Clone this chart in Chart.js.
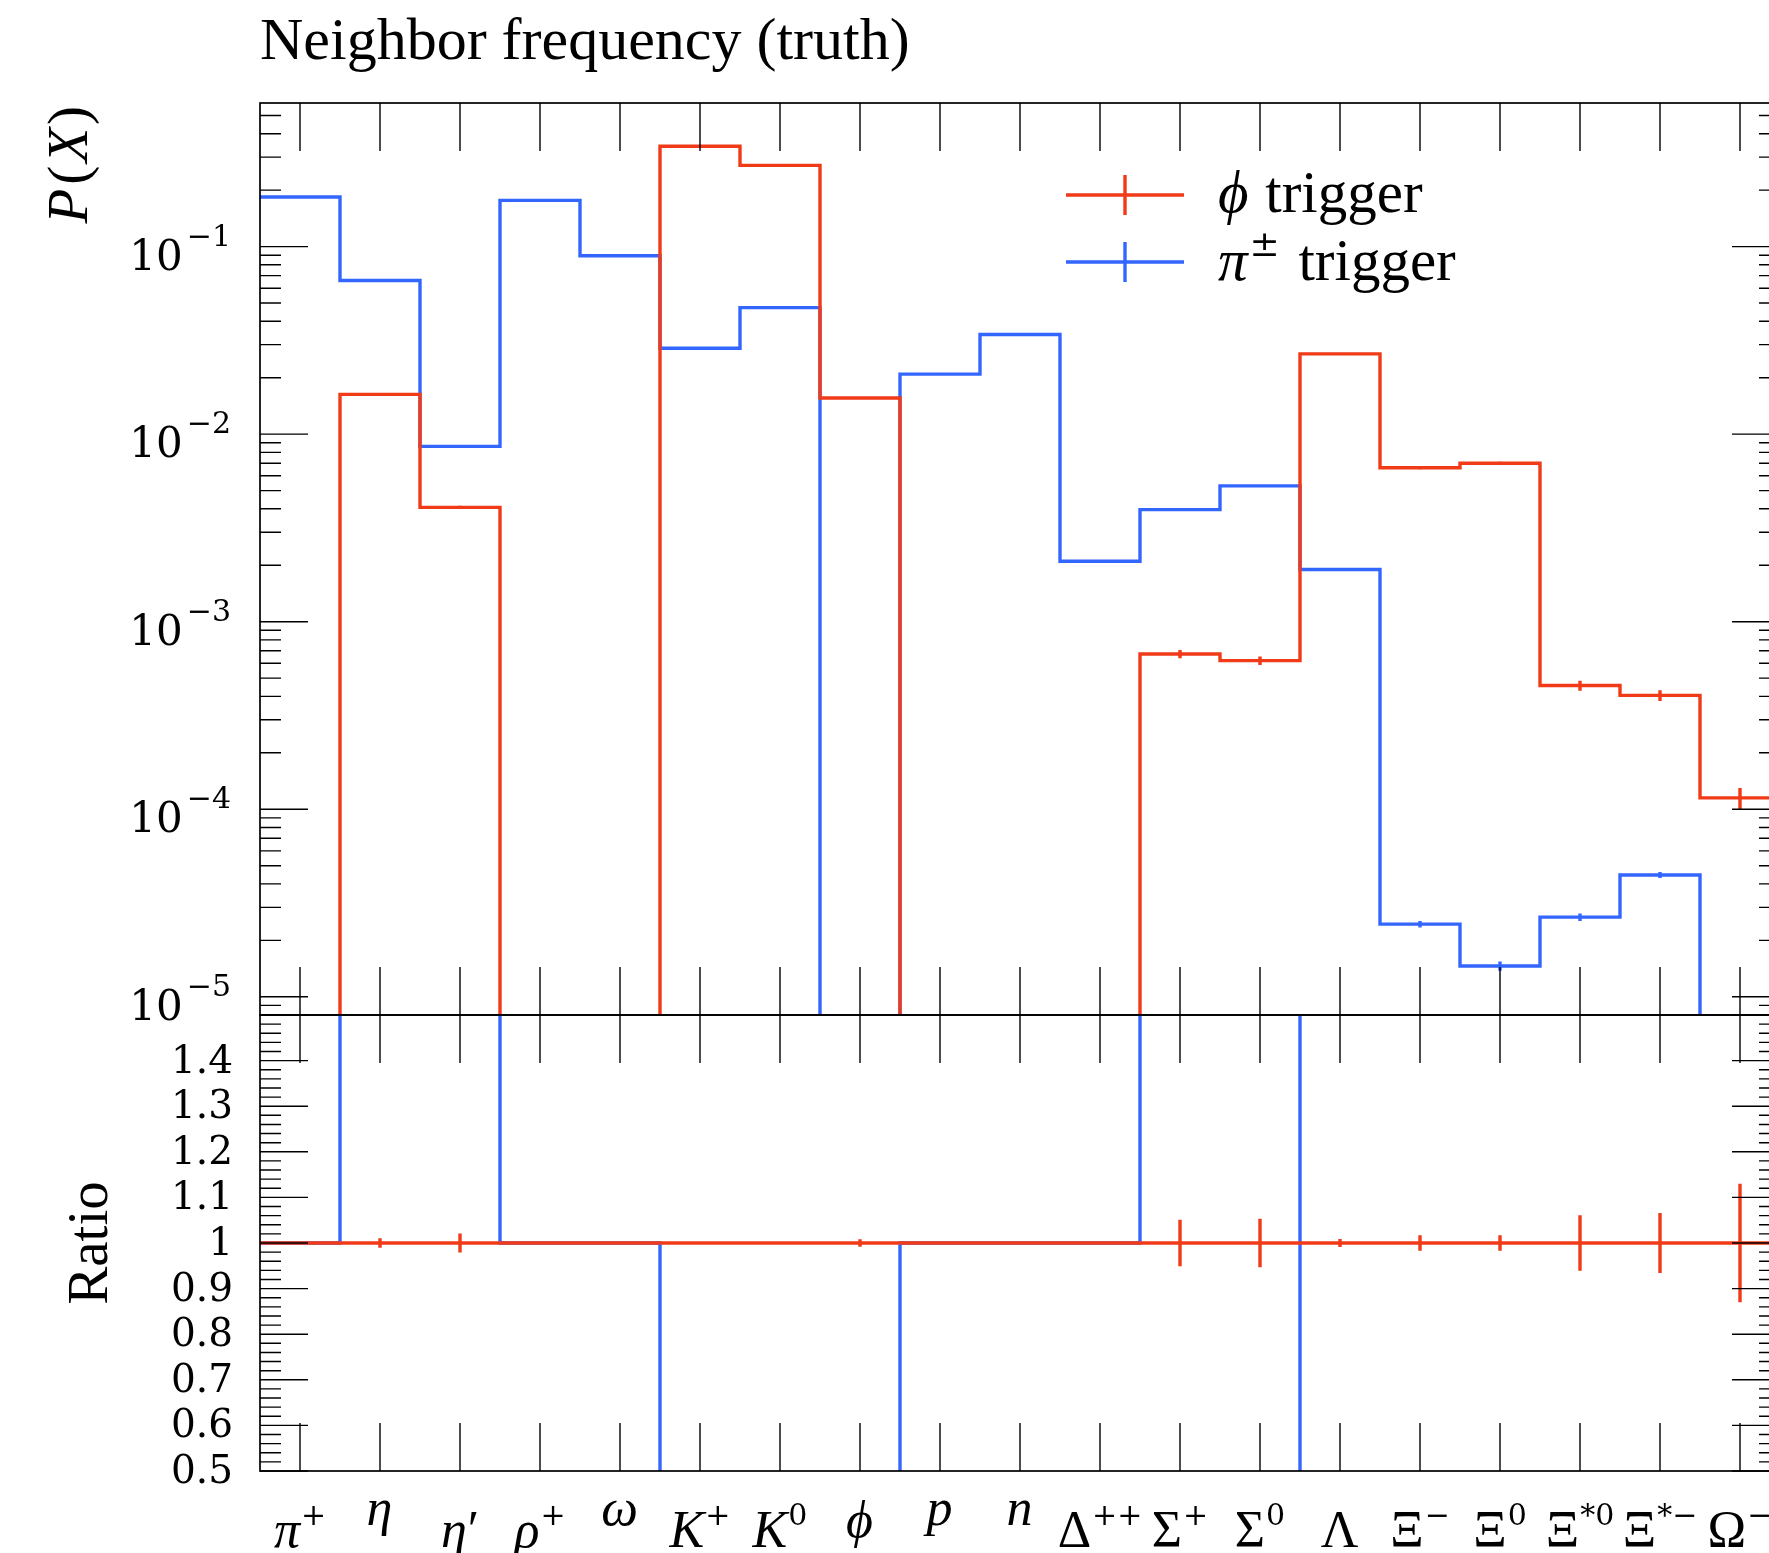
<!DOCTYPE html>
<html>
<head>
<meta charset="utf-8">
<title>Neighbor frequency (truth)</title>
<script src="https://cdn.jsdelivr.net/npm/chart.js@4.4.1/dist/chart.umd.min.js"></script>
<style>
  html, body { margin: 0; padding: 0; overflow: hidden; background: #fff; }
  #wrap { position: relative; width: 1769px; height: 1553px; overflow: hidden; }
  canvas { position: absolute; left: 0; top: 0; }
</style>
</head>
<body>
<div id="wrap">
  <canvas id="upper" width="1800" height="1553"></canvas>
  <canvas id="lower" width="1800" height="1553"></canvas>
</div>
<script>
// bins (x tick labels)
const particles   = ['π', 'η', 'η', 'ρ', 'ω', 'K', 'K', 'ϕ', 'p', 'n', 'Δ', 'Σ', 'Σ', 'Λ', 'Ξ', 'Ξ', 'Ξ', 'Ξ', 'Ω'];
const particleSup = ['+', '', '′', '+', '', '+', '0', '', '', '', '++', '+', '0', '', '−', '0', '*0', '*−', '−'];

// P(X) for the phi trigger, and relative errors
const phiTrigger = [0, 0.0163, 0.00407, 0, 0, 0.343, 0.271, 0.0156, 0, 0, 0,
                    6.73e-4, 6.2e-4, 0.0268, 0.00662, 0.0070, 4.57e-4, 4.05e-4, 1.15e-4];
const phiErr     = [0, 0.0105, 0.021, 0, 0, 0.002, 0.002, 0.008, 0, 0, 0,
                    0.051, 0.053, 0.009, 0.017, 0.017, 0.061, 0.066, 0.13];

// P(X) for the pi+- trigger, and relative errors
const piTrigger  = [0.1838, 0.0659, 0.00861, 0.1763, 0.0894, 0.0287, 0.0473, 0, 0.0209, 0.0340, 0.00210,
                    0.00396, 0.00530, 0.00190, 2.44e-5, 1.46e-5, 2.66e-5, 4.46e-5, 0];
const piErr      = [0.001, 0.002, 0.005, 0.001, 0.002, 0.003, 0.003, 0, 0.003, 0.003, 0.01,
                    0.008, 0.007, 0.01, 0.041, 0.057, 0.046, 0.037, 0];

// y tick labels
const decades    = [-1, -2, -3, -4, -5];
const ratioTicks = [0.5, 0.6, 0.7, 0.8, 0.9, 1, 1.1, 1.2, 1.3, 1.4];

const RED = '#f03a18';
const BLUE = '#3366ff';
const SERIF = '"Liberation Serif", "DejaVu Serif", serif';
const NUM = '"DejaVu Serif", serif';
const FLOOR = 1e-9; // empty bins fall off the bottom of the log axis

const roman = (px, fam) => `${px}px ${fam || SERIF}`;
const italic = (px) => `italic ${px}px ${SERIF}`;

// histogram edges -> step points
let steps = (vals) => {
  let pts = vals.map((v, i) => ({ x: i, y: v }));
  pts.push({ x: vals.length, y: vals[vals.length - 1] });
  return pts;
};

let ratioPi = piTrigger.map((v, i) => phiTrigger[i] > 0 ? v / phiTrigger[i] : 1);
let ratioPhi = phiTrigger.map(() => 1);

let measure = (ctx, pieces) => {
  let w = 0;
  pieces.forEach(p => { ctx.font = p.font; w += ctx.measureText(p.t).width + (p.gap || 0); });
  return w;
};
let drawPieces = (ctx, x, y, pieces) => {
  ctx.textAlign = 'left';
  ctx.textBaseline = 'alphabetic';
  pieces.forEach(p => {
    ctx.font = p.font;
    ctx.fillText(p.t, x, y + (p.dy || 0));
    x += ctx.measureText(p.t).width + (p.gap || 0);
  });
};

const MAJOR = 48, MINOR = 21;

let logTicks = () => {
  let list = [];
  for (let e = -6; e <= 0; e++) {
    for (let m = 1; m <= 9; m++) {
      const v = m * Math.pow(10, e);
      if (v >= 8e-6 && v <= 0.583) list.push({ v, major: m === 1 });
    }
  }
  return list;
};
let ratioMinor = () => {
  let list = [];
  for (let k = 0; k <= 50; k++) list.push({ v: 0.5 + k * 0.02, major: k % 5 === 0 });
  return list;
};

// frame + inward ticks
let makeFrame = (tickList) => ({
  id: 'frame',
  afterDatasetsDraw(chart) {
    const { ctx, chartArea: a, scales } = chart;
    ctx.save();
    ctx.strokeStyle = '#000';
    ctx.lineWidth = 1.4;
    ctx.beginPath();
    for (let i = 0; i < particles.length; i++) {
      const x = scales.x.getPixelForValue(i + 0.5);
      ctx.moveTo(x, a.top); ctx.lineTo(x, a.top + MAJOR);
      ctx.moveTo(x, a.bottom); ctx.lineTo(x, a.bottom - MAJOR);
    }
    tickList().forEach(t => {
      const y = scales.y.getPixelForValue(t.v);
      const len = t.major ? MAJOR : MINOR;
      ctx.moveTo(a.left, y); ctx.lineTo(a.left + len, y);
      ctx.moveTo(a.right, y); ctx.lineTo(a.right - len, y);
    });
    ctx.stroke();
    ctx.lineWidth = 1.7;
    ctx.strokeRect(a.left, a.top, a.right - a.left, a.bottom - a.top);
    ctx.restore();
  }
});

// vertical error bars at bin centres
let errorPlugin = {
  id: 'errbars',
  afterDatasetsDraw(chart) {
    const { ctx, chartArea: a, scales } = chart;
    ctx.save();
    ctx.beginPath();
    ctx.rect(a.left, a.top, a.right - a.left, a.bottom - a.top);
    ctx.clip();
    chart.data.datasets.forEach(ds => {
      if (!ds.values || !ds.errors) return;
      ctx.strokeStyle = ds.borderColor;
      ctx.lineWidth = 3.4;
      ctx.beginPath();
      ds.values.forEach((v, i) => {
        const e = ds.errors[i];
        if (!(v > 0) || !e) return;
        const x = scales.x.getPixelForValue(i + 0.5);
        ctx.moveTo(x, scales.y.getPixelForValue(v * (1 - e)));
        ctx.lineTo(x, scales.y.getPixelForValue(v * (1 + e)));
      });
      ctx.stroke();
    });
    ctx.restore();
  }
};

let upperText = {
  id: 'upperText',
  afterDraw(chart) {
    const { ctx, scales } = chart;
    ctx.save();
    ctx.fillStyle = '#000';

    // title
    drawPieces(ctx, 260, 59, [{ t: 'Neighbor frequency (truth)', font: roman(60) }]);

    // y tick labels 10^-n
    decades.forEach(d => {
      const y = scales.y.getPixelForValue(Math.pow(10, d));
      const pieces = [
        { t: '10', font: roman(42, NUM), gap: 4 },
        { t: '−' + (-d), font: roman(30, NUM), dy: -24 }
      ];
      drawPieces(ctx, 231 - measure(ctx, pieces), y + 23, pieces);
    });

    // y axis title
    const yl = [
      { t: 'P', font: italic(57), gap: 4 },
      { t: '(', font: roman(57), gap: 3 },
      { t: 'X', font: italic(57), gap: 3 },
      { t: ')', font: roman(57) }
    ];
    ctx.save();
    ctx.translate(87, 106);
    ctx.rotate(-Math.PI / 2);
    drawPieces(ctx, -measure(ctx, yl), 0, yl);
    ctx.restore();

    // legend
    const rows = [{ y: 195, base: 212 }, { y: 262, base: 280 }];
    chart.data.datasets.forEach((ds, i) => {
      const r = rows[i];
      ctx.strokeStyle = ds.borderColor;
      ctx.lineWidth = 3.4;
      ctx.beginPath();
      ctx.moveTo(1066, r.y); ctx.lineTo(1184, r.y);
      ctx.moveTo(1125, r.y - 20); ctx.lineTo(1125, r.y + 20);
      ctx.stroke();
      drawPieces(ctx, 1218, r.base, ds.legendText);
    });
    ctx.restore();
  }
};

let lowerText = {
  id: 'lowerText',
  afterDraw(chart) {
    const { ctx, scales } = chart;
    ctx.save();
    ctx.fillStyle = '#000';

    ratioTicks.forEach(v => {
      const y = scales.y.getPixelForValue(v);
      const txt = v === 1 ? '1' : v.toFixed(1);
      ctx.font = roman(39, NUM);
      drawPieces(ctx, 233 - ctx.measureText(txt).width, y + 12, [{ t: txt, font: roman(39, NUM) }]);
    });

    ctx.save();
    ctx.translate(107, scales.y.getPixelForValue(1));
    ctx.rotate(-Math.PI / 2);
    ctx.font = roman(57);
    ctx.textAlign = 'center';
    ctx.fillText('Ratio', 0, 0);
    ctx.restore();

    // particle labels
    particles.forEach((name, i) => {
      const cx = scales.x.getPixelForValue(i + 0.5);
      const upright = /[ΔΣΛΞΩ]/.test(name);
      const base = { t: name, font: upright ? roman(52) : italic(52), gap: 1 };
      const sup = particleSup[i];
      const pieces = [base];
      if (sup === '′') pieces.push({ t: sup, font: roman(52) });
      else if (sup) pieces.push({ t: sup, font: roman(30, NUM), dy: -22 });
      const w = measure(ctx, pieces);
      let y = 1547;
      if (!sup && !upright) {
        ctx.font = base.font;
        y = 1500 + ctx.measureText(name).actualBoundingBoxAscent;
      }
      drawPieces(ctx, cx - w / 2, y, pieces);
    });
    ctx.restore();
  }
};

let lineDefaults = {
  borderWidth: 3.4, stepped: 'before', tension: 0, fill: false,
  pointRadius: 0, borderJoinStyle: 'miter', borderCapStyle: 'butt'
};

let baseOptions = (padding, yScale) => ({
  responsive: false,
  animation: false,
  devicePixelRatio: 1,
  layout: { padding },
  scales: {
    x: { type: 'linear', min: 0, max: particles.length, display: false },
    y: yScale
  },
  plugins: { legend: { display: false }, tooltip: { enabled: false } },
  events: []
});

// upper panel: P(X) on a log axis
new Chart(document.getElementById('upper'), {
  type: 'line',
  data: {
    datasets: [
      Object.assign({
        label: 'ϕ trigger', borderColor: RED,
        data: steps(phiTrigger.map(v => v > 0 ? v : FLOOR)),
        values: phiTrigger, errors: phiErr,
        legendText: [{ t: 'ϕ', font: italic(59), gap: 2 }, { t: ' trigger', font: roman(59) }]
      }, lineDefaults),
      Object.assign({
        label: 'π± trigger', borderColor: BLUE,
        data: steps(piTrigger.map(v => v > 0 ? v : FLOOR)),
        values: piTrigger, errors: piErr,
        legendText: [{ t: 'π', font: italic(59), gap: 2 }, { t: '±', font: roman(36, NUM), dy: -24, gap: 4 }, { t: ' trigger', font: roman(59) }]
      }, lineDefaults)
    ]
  },
  options: baseOptions({ left: 260, top: 103, right: 20, bottom: 1553 - 1015 },
    { type: 'logarithmic', min: 8e-6, max: 0.583, display: false }),
  plugins: [errorPlugin, makeFrame(logTicks), upperText]
});

// lower panel: ratio to the phi trigger
new Chart(document.getElementById('lower'), {
  type: 'line',
  data: {
    datasets: [
      Object.assign({ label: 'ϕ trigger', borderColor: RED, data: steps(ratioPhi),
        values: ratioPhi, errors: phiErr }, lineDefaults),
      Object.assign({ label: 'π± trigger', borderColor: BLUE, data: steps(ratioPi) }, lineDefaults)
    ]
  },
  options: baseOptions({ left: 260, top: 1015, right: 20, bottom: 1553 - 1471 },
    { type: 'linear', min: 0.5, max: 1.5, display: false }),
  plugins: [errorPlugin, makeFrame(ratioMinor), lowerText]
});
</script>
</body>
</html>
